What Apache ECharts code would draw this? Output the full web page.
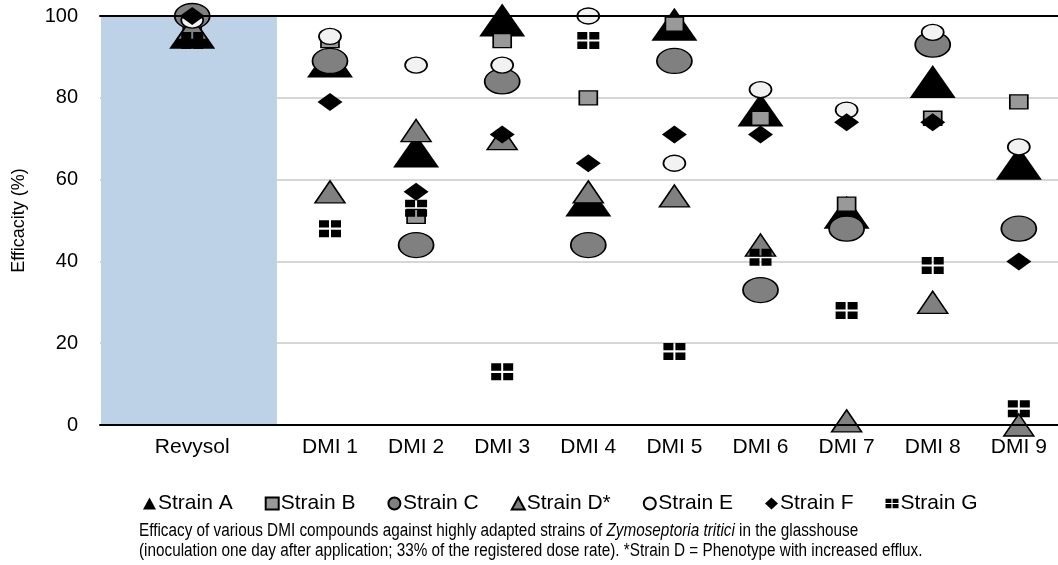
<!DOCTYPE html>
<html>
<head>
<meta charset="utf-8">
<script src="https://cdn.jsdelivr.net/npm/echarts@6/dist/echarts.min.js"></script>
<style>
  html, body { margin: 0; padding: 0; background: #fff; }
  #chart { width: 1058px; height: 565px; }
</style>
</head>
<body>
<div id="chart"></div>
<script>
// categories and where they sit on the x scale (Revysol has a wider slot)
var categories = ['Revysol', 'DMI 1', 'DMI 2', 'DMI 3', 'DMI 4', 'DMI 5', 'DMI 6', 'DMI 7', 'DMI 8', 'DMI 9']
var catPos = [-0.6, 1, 2, 3, 4, 5, 6, 7, 8, 9]

// efficacy (%) per strain, same order as categories
var strainA = [96, 89, 67, 99, 55, 98, 77, 52, 84, 64]
var strainB = [96, 94, 51, 94, 80, 98, 75, 54, 75, 79]
var strainC = [100, 89, 44, 84, 44, 89, 33, 48, 93, 48]
var strainD = [97, 57, 72, 70, 57, 56, 44, 1, 30, 0]
var strainE = [99, 95, 88, 88, 100, 64, 82, 77, 96, 68]
var strainF = [100, 79, 57, 71, 64, 71, 71, 74, 74, 40]
var strainG = [94, 48, 53, 13, 94, 18, 41, 28, 39, 4]

var FONT = '"Liberation Sans", Arial, sans-serif'
var gridSym = 'path://M0,0H10V7H0Z M12,0H22V7H12Z M0,9H10V16H0Z M12,9H22V16H12Z'

function pts(vals) {
  var out = []
  for (let i = 0; i < vals.length; i++) {
    out.push([catPos[i], vals[i]])
  }
  return out
}

function makeSeries(name, vals, symbol, size, fill, border) {
  return {
    name: name,
    type: 'scatter',
    data: pts(vals),
    symbol: symbol,
    symbolSize: size,
    itemStyle: {
      color: fill,
      borderColor: '#000',
      borderWidth: border,
      opacity: 1
    },
    emphasis: { disabled: true }
  }
}

var series = [
  makeSeries('Strain A', strainA, 'triangle', [46, 33], '#000', 0),
  makeSeries('Strain B', strainB, 'rect', [18, 14], '#999999', 1.5),
  makeSeries('Strain C', strainC, 'circle', [35, 25], '#808080', 1.5),
  makeSeries('Strain D*', strainD, 'triangle', [30, 22], '#808080', 1.5),
  makeSeries('Strain E', strainE, 'circle', [22, 16], '#F2F2F2', 1.5),
  makeSeries('Strain F', strainF, 'diamond', [25, 18], '#000', 0),
  makeSeries('Strain G', strainG, gridSym, [22, 17], '#000', 0)
]

// shaded Revysol slot
series[0].markArea = {
  silent: true,
  itemStyle: { color: '#BDD1E7' },
  data: [[{ xAxis: -1.659, yAxis: 0 }, { xAxis: 0.384, yAxis: 100 }]]
}

var chart = echarts.init(document.getElementById('chart'))
chart.setOption({
  animation: false,
  textStyle: { fontFamily: FONT },
  grid: { left: 100, right: 0, top: 16, bottom: 140 },
  xAxis: [{
    type: 'value',
    min: -1.671,
    max: 9.455,
    z: 5,
    splitLine: { show: false },
    axisTick: { show: false },
    axisLine: { show: true, onZero: false, lineStyle: { color: '#000', width: 2 } },
    axisLabel: {
      customValues: catPos,
      margin: 12,
      fontSize: 21,
      color: '#000',
      fontFamily: FONT,
      formatter: function(v) {
        var idx = catPos.indexOf(v)
        return idx >= 0 ? categories[idx] : ''
      }
    }
  }, {
    type: 'value',
    position: 'top',
    min: -1.671,
    max: 9.455,
    z: 5,
    splitLine: { show: false },
    axisTick: { show: false },
    axisLabel: { show: false },
    axisLine: { show: true, onZero: false, lineStyle: { color: '#000', width: 2 } }
  }],
  yAxis: {
    type: 'value',
    min: 0,
    max: 100,
    interval: 20,
    name: 'Efficacity (%)',
    nameLocation: 'middle',
    nameGap: 72,
    nameTextStyle: { fontSize: 18, color: '#000', fontFamily: FONT },
    axisLine: { show: true, lineStyle: { color: '#000', width: 2 } },
    axisTick: { show: true, length: 8, lineStyle: { color: '#000', width: 1.5 } },
    axisLabel: {
      margin: 22,
      fontSize: 20,
      color: '#000',
      fontFamily: FONT
    },
    splitLine: { show: true, lineStyle: { color: '#C8C8C8', width: 1.5 } }
  },
  legend: {
    left: 138,
    top: 488,
    itemWidth: 13,
    itemHeight: 12,
    itemGap: 32,
    textStyle: { fontSize: 21, color: '#000', fontFamily: FONT, padding: [0, 0, 0, -3] },
    selectedMode: false,
    data: ['Strain A', 'Strain B', 'Strain C', 'Strain D*', 'Strain E', 'Strain F', 'Strain G']
  },
  graphic: [{
    type: 'text',
    x: 139,
    y: 521,
    scaleX: 0.85,
    style: {
      text: 'Efficacy of various DMI compounds against highly adapted strains of {i|Zymoseptoria tritici} in the glasshouse\n' +
        '(inoculation one day after application; 33% of the registered dose rate). *Strain D = Phenotype with increased efflux.',
      font: '18px "Liberation Sans", Arial, sans-serif',
      lineHeight: 20,
      fill: '#000',
      rich: {
        i: {
          fontStyle: 'italic',
          fontSize: 18,
          fontFamily: FONT,
          lineHeight: 20,
          fill: '#000'
        }
      }
    }
  }],
  series: series
})
</script>
</body>
</html>
